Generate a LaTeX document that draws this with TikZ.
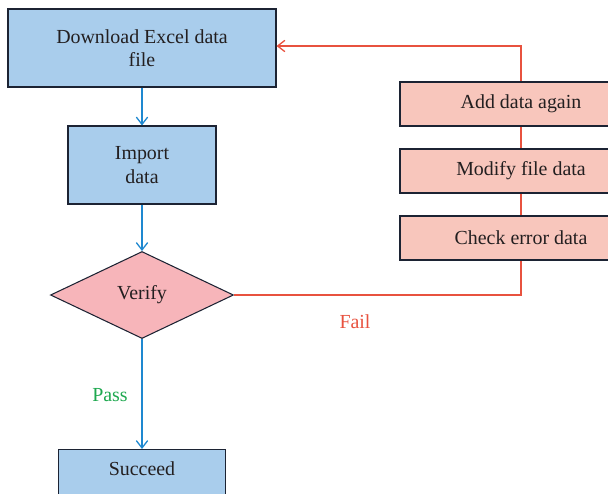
\documentclass[tikz,border=0pt]{standalone}
\usepackage{fontspec}
\setmainfont{Liberation Serif}
\usepackage{tikz}
\usetikzlibrary{arrows.meta, shapes.geometric}

\definecolor{boxblue}{HTML}{A9CDEC}
\definecolor{boxpink}{HTML}{F7B5BA}
\definecolor{boxsalmon}{HTML}{F8C6BC}
\definecolor{linkblue}{HTML}{1E88D0}
\definecolor{linkred}{HTML}{E8523F}
\definecolor{passgreen}{HTML}{1EA84F}
\definecolor{edge}{HTML}{1C2333}
\definecolor{ink}{HTML}{231F20}

\begin{document}
\begin{tikzpicture}[
  x=0.03cm, y=-0.03cm,
  every node/.style={text=ink, font=\fontsize{17}{20}\selectfont},
  blk/.style={
    rectangle, draw=edge, line width=0.9pt, fill=boxblue,
    align=center, inner sep=0pt
  },
  fix/.style={
    rectangle, draw=edge, line width=0.9pt, fill=boxsalmon,
    minimum width=7.26cm, minimum height=1.32cm, inner sep=0pt
  },
  test/.style={
    diamond, draw=edge, line width=0.9pt, fill=boxpink,
    minimum width=5.49cm, minimum height=2.61cm, inner sep=0pt
  },
  go/.style={draw=linkblue, line width=1.1pt,
    -{Straight Barb[length=0.22cm, width=0.34cm]}},
  back/.style={draw=linkred, line width=1.1pt,
    -{Straight Barb[length=0.22cm, width=0.34cm]}}
]
  \useasboundingbox (0,0) rectangle (608,493);
  \clip (0,0) rectangle (608,493);

  % main column
  \node[blk, minimum width=8.04cm, minimum height=2.34cm] (dl) at (142,48)
    {Download Excel data\\file};
  \node[blk, minimum width=4.44cm, minimum height=2.34cm] (imp) at (142,165)
    {Import\\data};
  \node[test] (ver) at (142,295) {Verify};
  \node[blk, minimum width=5.01cm, minimum height=2.34cm, anchor=north]
    (ok) at (142,449) {};
  \node (okt) at (142,469) {Succeed};

  % loop back on failure
  \coordinate (turn) at (521,46);
  \draw[back] (ver.east) -| (turn) -- (turn -| dl.east);

  % fix-up steps sit on the loop
  \node[fix] (add) at (521,104) {Add data again};
  \node[fix] (mod) at (521,171) {Modify file data};
  \node[fix] (chk) at (521,238) {Check error data};

  \draw[go] (dl) -- (imp);
  \draw[go] (imp) -- (ver);
  \draw[go] (ver) -- (ok);

  \node[text=linkred] (fail) at (355,322) {Fail};
  \node[text=passgreen] (pass) at (110,395) {Pass};
\end{tikzpicture}
\end{document}
